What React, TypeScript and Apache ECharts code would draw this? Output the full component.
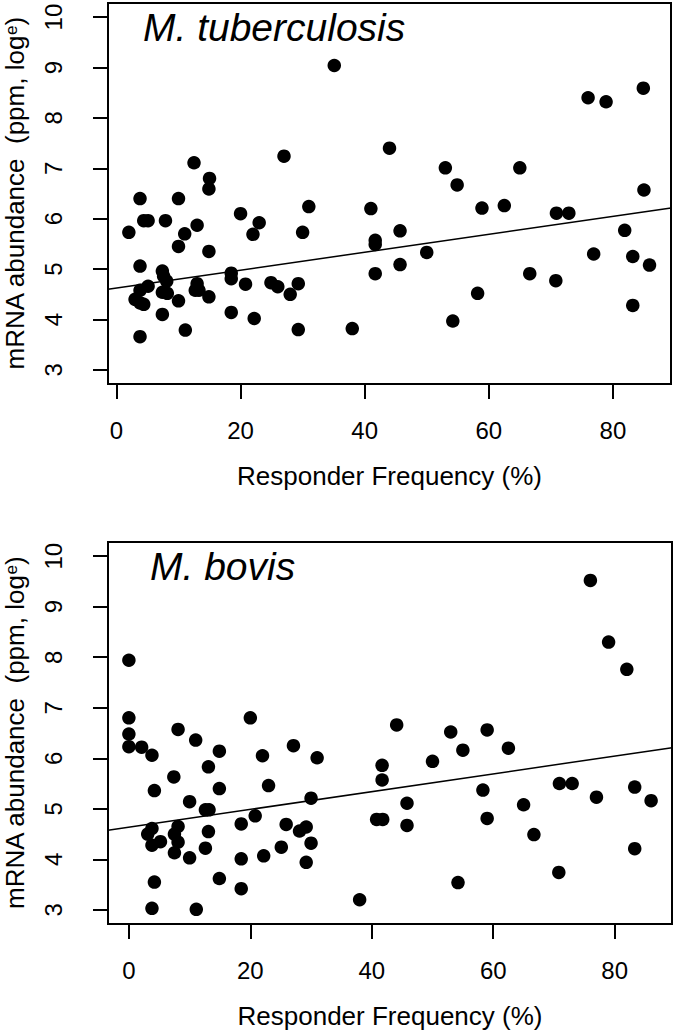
import React, { useEffect, useRef } from "react";
import * as echarts from "echarts";

// M. tuberculosis panel
const tbFreq = [
  12.5, 15.0, 14.9, 3.8, 10.0, 27.0, 20.0, 23.0, 22.0, 31.0, 30.0, 4.4, 5.1, 7.9, 2.0, 11.0,
  13.0, 10.0, 14.9, 3.8, 7.4, 7.6, 8.1, 5.1, 3.8, 3.0, 3.8, 4.4, 7.4, 8.2, 10.0, 7.4,
  3.8, 11.1, 13.0, 12.7, 13.3, 14.9, 18.5, 18.5, 20.8, 18.5, 22.2, 24.9, 26.0, 28.0, 29.3, 29.3,
  35.1, 44.0, 53.0, 65.0, 54.9, 41.0, 58.9, 62.5, 70.9, 72.9, 85.0, 45.7, 41.7, 41.7, 81.9, 50.0,
  45.7, 41.7, 76.9, 83.2, 85.9, 66.6, 70.8, 58.2, 54.2, 83.2, 38.0, 76.0, 78.9, 84.9,
];
const tbAbund = [
  7.11, 6.8, 6.59, 6.4, 6.4, 7.24, 6.1, 5.92, 5.69, 6.24, 5.73, 5.96, 5.96, 5.96, 5.73, 5.7,
  5.87, 5.45, 5.35, 5.06, 4.96, 4.86, 4.76, 4.66, 4.58, 4.4, 4.33, 4.3, 4.54, 4.52, 4.37, 4.1,
  3.66, 3.79, 4.71, 4.58, 4.58, 4.45, 4.92, 4.81, 4.7, 4.14, 4.02, 4.73, 4.65, 4.5, 4.71, 3.8,
  9.04, 7.4, 7.01, 7.01, 6.67, 6.2, 6.21, 6.26, 6.11, 6.11, 6.57, 5.76, 5.57, 5.49, 5.77, 5.33,
  5.09, 4.91, 5.3, 5.25, 5.08, 4.91, 4.77, 4.52, 3.97, 4.28, 3.82, 8.4, 8.32, 8.59,
];

// M. bovis panel
const bovisFreq = [
  0.0, 0.0, 0.0, 0.0, 2.1, 3.8, 8.1, 11.0, 14.9, 20.0, 22.0, 27.1, 31.0, 13.1, 7.4, 4.2,
  14.9, 23.0, 10.0, 12.6, 13.2, 30.0, 20.8, 18.5, 25.9, 28.1, 29.2, 30.0, 3.8, 3.1, 3.8, 5.2,
  8.1, 7.5, 8.1, 7.5, 13.1, 10.0, 12.6, 18.5, 22.2, 25.1, 29.2, 4.2, 14.9, 18.5, 3.8, 11.1,
  44.1, 53.0, 59.0, 55.0, 62.5, 41.7, 41.7, 50.0, 58.3, 45.8, 45.8, 40.8, 41.8, 59.0, 65.0, 66.7,
  70.9, 73.0, 77.0, 83.3, 86.0, 83.3, 70.8, 54.2, 38.0, 76.0, 79.0, 82.0,
];
const bovisAbund = [
  7.94, 6.8, 6.48, 6.23, 6.22, 6.06, 6.57, 6.36, 6.14, 6.8, 6.05, 6.25, 6.01, 5.83, 5.63, 5.36,
  5.4, 5.46, 5.14, 4.98, 4.98, 5.21, 4.86, 4.7, 4.69, 4.56, 4.64, 4.32, 4.61, 4.5, 4.28, 4.35,
  4.65, 4.5, 4.34, 4.13, 4.55, 4.03, 4.22, 4.01, 4.07, 4.24, 3.94, 3.55, 3.62, 3.42, 3.03, 3.01,
  6.66, 6.52, 6.56, 6.16, 6.2, 5.86, 5.57, 5.94, 5.37, 5.11, 4.67, 4.79, 4.79, 4.81, 5.08, 4.49,
  5.5, 5.5, 5.23, 5.43, 5.16, 4.21, 3.74, 3.54, 3.2, 9.52, 8.3, 7.76,
];

// regression lines (endpoints at the plot edges)
const tbFit = [
  [-1.36, 4.6],
  [89.36, 6.21],
];
const bovisFit = [
  [-3.44, 4.575],
  [89.44, 6.21],
];

const xTicks = [0, 20, 40, 60, 80];
const yTicks = [3, 4, 5, 6, 7, 8, 9, 10];
const tbXRange = [-1.36, 89.36];
const bovisXRange = [-3.44, 89.44];
const yRange = [2.72, 10.28];
const panelTitles = ["M. tuberculosis", "M. bovis"];
const xTitle = "Responder Frequency (%)";
const yTitle = "mRNA abundance\u00a0\u00a0(ppm, log{sup|e})";

const FONT = "'Liberation Sans', Arial, Helvetica, sans-serif";

function zip(a: number[], b: number[]) {
  return a.map((v, i) => [v, b[i]]);
}

export default function App() {
  const ref = useRef<HTMLDivElement>(null);
  useEffect(() => {
    if (!ref.current) return;
    const chart = echarts.init(ref.current, null, { renderer: "svg" });
    const grids = [
      { left: 108, top: 3, width: 563, height: 381 },
      { left: 108, top: 542, width: 564, height: 382 },
    ];
    const xRanges = [tbXRange, bovisXRange];
    const mkX = (i: number) => ({
      type: "value",
      gridIndex: i,
      min: xRanges[i][0],
      max: xRanges[i][1],
      axisLine: { show: false, onZero: false },
      axisTick: {
        show: true,
        length: 15,
        customValues: xTicks,
        lineStyle: { color: "#000", width: 2 },
      },
      axisLabel: {
        customValues: xTicks,
        margin: 34,
        color: "#000",
        fontSize: 24,
        fontFamily: FONT,
      },
      splitLine: { show: false },
      name: xTitle,
      nameLocation: "middle",
      nameGap: 79,
      nameMoveOverlap: false,
      nameTextStyle: { color: "#000", fontSize: 26, fontFamily: FONT },
    });
    const mkY = (i: number) => ({
      type: "value",
      gridIndex: i,
      min: yRange[0],
      max: yRange[1],
      axisLine: { show: false, onZero: false },
      axisTick: {
        show: true,
        length: 15,
        customValues: yTicks,
        lineStyle: { color: "#000", width: 2 },
      },
      axisLabel: {
        customValues: yTicks,
        rotate: 90,
        margin: 43,
        color: "#000",
        fontSize: 24,
        fontFamily: FONT,
      },
      splitLine: { show: false },
      name: yTitle,
      nameLocation: "middle",
      nameRotate: 90,
      nameGap: 81,
      nameMoveOverlap: false,
      nameTextStyle: {
        color: "#000",
        fontSize: 26,
        lineHeight: 24,
        fontFamily: FONT,
        rich: {
          sup: {
            color: "#000",
            fontSize: 17,
            lineHeight: 17,
            fontFamily: FONT,
            verticalAlign: "top",
          },
        },
      },
    });
    const titleStyle = {
      fontSize: 39,
      fontStyle: "italic",
      fontWeight: "normal",
      color: "#000",
      fontFamily: FONT,
    };
    const dot = {
      type: "scatter",
      symbol: "circle",
      symbolSize: 13.5,
      itemStyle: { color: "#000", opacity: 1 },
      silent: true,
    };
    const fit = {
      type: "line",
      showSymbol: false,
      symbol: "none",
      lineStyle: { color: "#000", width: 1.5 },
      silent: true,
    };
    const option: any = {
      animation: false,
      backgroundColor: "#fff",
      title: [
        { text: panelTitles[0], left: 143, top: 8, padding: 0, textStyle: titleStyle },
        { text: panelTitles[1], left: 150, top: 547, padding: 0, textStyle: titleStyle },
      ],
      grid: grids.map((g) => ({
        ...g,
        show: true,
        borderColor: "#000",
        borderWidth: 2,
        backgroundColor: "transparent",
        containLabel: false,
        outerBoundsMode: "none",
      })),
      xAxis: [mkX(0), mkX(1)],
      yAxis: [mkY(0), mkY(1)],
      series: [
        { ...dot, xAxisIndex: 0, yAxisIndex: 0, data: zip(tbFreq, tbAbund) },
        { ...fit, xAxisIndex: 0, yAxisIndex: 0, data: tbFit },
        { ...dot, xAxisIndex: 1, yAxisIndex: 1, data: zip(bovisFreq, bovisAbund) },
        { ...fit, xAxisIndex: 1, yAxisIndex: 1, data: bovisFit },
      ],
    };
    chart.setOption(option);
    return () => chart.dispose();
  }, []);
  return (
    <div
      ref={ref}
      style={{ position: "fixed", left: 0, top: 0, width: 700, height: 1032, background: "#fff" }}
    />
  );
}
